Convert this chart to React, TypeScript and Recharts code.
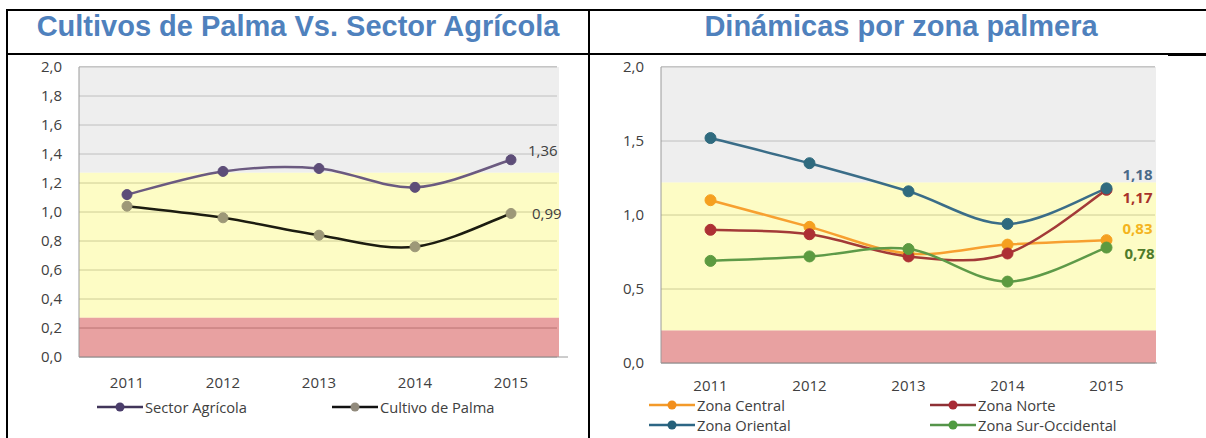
import React from "react";
import {
  LineChart,
  Line,
  XAxis,
  YAxis,
  CartesianGrid,
  ReferenceArea,
  Legend,
} from "recharts";

// ---- data ----
const years = ["2011", "2012", "2013", "2014", "2015"];

const sectorAgricola = [1.12, 1.28, 1.3, 1.17, 1.36];
const cultivoPalma = [1.04, 0.96, 0.84, 0.76, 0.99];
const leftTicks = [0, 0.2, 0.4, 0.6, 0.8, 1.0, 1.2, 1.4, 1.6, 1.8, 2.0];
const leftRedBand = [0, 0.27];
const leftYellowBand = [0.27, 1.27];

const zonaCentral = [1.1, 0.92, 0.74, 0.8, 0.83];
const zonaNorte = [0.9, 0.87, 0.72, 0.74, 1.17];
const zonaOriental = [1.52, 1.35, 1.16, 0.94, 1.18];
const zonaSurOccidental = [0.69, 0.72, 0.77, 0.55, 0.78];
const rightTicks = [0, 0.5, 1.0, 1.5, 2.0];
const rightRedBand = [0, 0.22];
const rightYellowBand = [0.22, 1.22];

const leftData = years.map((year, i) => ({
  year,
  sector: sectorAgricola[i],
  palma: cultivoPalma[i],
}));

const rightData = years.map((year, i) => ({
  year,
  central: zonaCentral[i],
  norte: zonaNorte[i],
  oriental: zonaOriental[i],
  sur: zonaSurOccidental[i],
}));

// ---- styling ----
const chartFont = "'Open Sans', 'Noto Sans', sans-serif";
const textGray = "#404040";
const gridGray = "#8a8a8a";
const axisGray = "#9a9a9a";
const titleBlue = "#4f81bd";

const fmtTick = (v: number) => v.toFixed(1).replace(".", ",");
const fmtValue = (v: number) => v.toFixed(2).replace(".", ",");

// Excel-like smoothed line (Catmull-Rom through the points)
const excelSmooth = (ctx: any) => {
  let pts: number[][] = [];
  return {
    areaStart() {},
    areaEnd() {},
    lineStart() {
      pts = [];
    },
    point(x: number, y: number) {
      pts.push([+x, +y]);
    },
    lineEnd() {
      if (!pts.length) return;
      ctx.moveTo(pts[0][0], pts[0][1]);
      for (let i = 0; i < pts.length - 1; i++) {
        const p0 = pts[Math.max(i - 1, 0)];
        const p1 = pts[i];
        const p2 = pts[i + 1];
        const p3 = pts[Math.min(i + 2, pts.length - 1)];
        ctx.bezierCurveTo(
          p1[0] + (p2[0] - p0[0]) / 6,
          p1[1] + (p2[1] - p0[1]) / 6,
          p2[0] - (p3[0] - p1[0]) / 6,
          p2[1] - (p3[1] - p1[1]) / 6,
          p2[0],
          p2[1]
        );
      }
    },
  };
};

const shortGrid = (trim: number) => (p: any) => (
  <line
    key={`h-${p.index}`}
    x1={p.x1}
    x2={p.x2 - trim}
    y1={p.y1}
    y2={p.y2}
    stroke={gridGray}
    strokeWidth={1}
  />
);

const endLabel =
  (color: string, dx: number, dy: number, bold: boolean) => (props: any) => {
    const { x, y, value, index } = props;
    if (index !== years.length - 1) return null;
    return (
      <text
        x={x + dx}
        y={y + dy}
        fill={color}
        fontSize={15}
        fontWeight={bold ? 700 : 400}
        fontFamily={chartFont}
        dominantBaseline="central"
      >
        {fmtValue(value)}
      </text>
    );
  };

type LegendItem = {
  name: string;
  line: string;
  dot: string;
  x: number;
  row: number;
};

function LegendBox({ items, height }: { items: LegendItem[]; height: number }) {
  return (
    <div
      style={{
        position: "relative",
        height,
        fontFamily: chartFont,
        fontSize: 14.7,
        color: textGray,
      }}
    >
      {items.map((it) => (
        <div
          key={it.name}
          style={{
            position: "absolute",
            left: it.x,
            top: it.row * 20,
            height: 18,
            display: "flex",
            alignItems: "center",
            whiteSpace: "nowrap",
          }}
        >
          <svg width={46} height={12}>
            <line x1={0} x2={46} y1={6} y2={6} stroke={it.line} strokeWidth={2.5} />
            <circle cx={23} cy={6} r={4.5} fill={it.dot} />
          </svg>
          <span style={{ marginLeft: 2, lineHeight: "16px" }}>{it.name}</span>
        </div>
      ))}
    </div>
  );
}

const leftLegend: LegendItem[] = [
  { name: "Sector Agrícola", line: "#41355a", dot: "#4a3d6b", x: 97, row: 0 },
  { name: "Cultivo de Palma", line: "#111111", dot: "#918a7c", x: 332, row: 0 },
];

const rightLegend: LegendItem[] = [
  { name: "Zona Central", line: "#f39a2a", dot: "#f28f1c", x: 59, row: 0 },
  { name: "Zona Norte", line: "#8e3035", dot: "#a82a35", x: 340, row: 0 },
  { name: "Zona Oriental", line: "#2c6685", dot: "#25607a", x: 59, row: 1 },
  { name: "Zona Sur-Occidental", line: "#55944a", dot: "#4f9a40", x: 340, row: 1 },
];

const tickStyle = { fill: textGray, fontSize: 15, fontFamily: chartFont };

function LeftChart() {
  return (
    <LineChart
      width={590}
      height={384}
      data={leftData}
      margin={{ top: 13, right: 22, bottom: 22, left: 0 }}
    >
      <CartesianGrid vertical={false} horizontal={shortGrid(11)} />
      <ReferenceArea y1={leftYellowBand[1]} y2={2} fill="#e2e2e2" fillOpacity={0.6} stroke="none" />
      <ReferenceArea y1={leftYellowBand[0]} y2={leftYellowBand[1]} fill="#fcfa9e" fillOpacity={0.6} stroke="none" />
      <ReferenceArea y1={leftRedBand[0]} y2={leftRedBand[1]} fill="#d96262" fillOpacity={0.6} stroke="none" />
      <XAxis
        dataKey="year"
        scale="band"
        axisLine={{ stroke: axisGray }}
        tickLine={false}
        tickMargin={14}
        height={41}
        padding={{ left: 0, right: 9 }}
        tick={tickStyle}
        interval={0}
      />
      <YAxis
        domain={[0, 2]}
        ticks={leftTicks}
        tickFormatter={fmtTick}
        axisLine={{ stroke: axisGray }}
        tickLine={false}
        tickMargin={11}
        width={79}
        tick={tickStyle}
        interval={0}
      />
      <Legend
        verticalAlign="bottom"
        content={() => <LegendBox items={leftLegend} height={18} />}
      />
      <Line
        dataKey="sector"
        type={excelSmooth as any}
        stroke="#6b5a80"
        strokeWidth={2.5}
        dot={{ r: 5, fill: "#5d4d78", stroke: "#5d4d78", strokeWidth: 1 }}
        activeDot={false}
        isAnimationActive={false}
        label={endLabel(textGray, 17, -10, false)}
      />
      <Line
        dataKey="palma"
        type={excelSmooth as any}
        stroke="#1c1c10"
        strokeWidth={2.5}
        dot={{ r: 5, fill: "#9d9878", stroke: "#9d9878", strokeWidth: 1 }}
        activeDot={false}
        isAnimationActive={false}
        label={endLabel(textGray, 21, 0, false)}
      />
    </LineChart>
  );
}

function RightChart() {
  return (
    <LineChart
      width={616}
      height={384}
      data={rightData}
      margin={{ top: 13, right: 49, bottom: 4, left: 0 }}
    >
      <CartesianGrid vertical={false} horizontal={shortGrid(2)} />
      <ReferenceArea y1={rightYellowBand[1]} y2={2} fill="#e2e2e2" fillOpacity={0.6} stroke="none" />
      <ReferenceArea y1={rightYellowBand[0]} y2={rightYellowBand[1]} fill="#fcfa9e" fillOpacity={0.6} stroke="none" />
      <ReferenceArea y1={rightRedBand[0]} y2={rightRedBand[1]} fill="#d96262" fillOpacity={0.6} stroke="none" />
      <XAxis
        dataKey="year"
        scale="band"
        axisLine={{ stroke: axisGray }}
        tickLine={false}
        tickMargin={11}
        height={33}
        padding={{ left: 0, right: 1 }}
        tick={tickStyle}
        interval={0}
      />
      <YAxis
        domain={[0, 2]}
        ticks={rightTicks}
        tickFormatter={fmtTick}
        axisLine={{ stroke: axisGray }}
        tickLine={false}
        tickMargin={11}
        width={71}
        tick={tickStyle}
        interval={0}
      />
      <Legend
        verticalAlign="bottom"
        content={() => <LegendBox items={rightLegend} height={38} />}
      />
      <Line
        dataKey="central"
        type={excelSmooth as any}
        stroke="#f7a030"
        strokeWidth={2.5}
        dot={{ r: 5.5, fill: "#f5a020", stroke: "#f5a020", strokeWidth: 1 }}
        activeDot={false}
        isAnimationActive={false}
        label={endLabel("#f4b41e", 16, -12, true)}
      />
      <Line
        dataKey="norte"
        type={excelSmooth as any}
        stroke="#a33a38"
        strokeWidth={2.5}
        dot={{ r: 5.5, fill: "#ad3034", stroke: "#ad3034", strokeWidth: 1 }}
        activeDot={false}
        isAnimationActive={false}
        label={endLabel("#a8322a", 16, 7, true)}
      />
      <Line
        dataKey="sur"
        type={excelSmooth as any}
        stroke="#5e9a48"
        strokeWidth={2.5}
        dot={{ r: 5.5, fill: "#5c9a40", stroke: "#5c9a40", strokeWidth: 1 }}
        activeDot={false}
        isAnimationActive={false}
        label={endLabel("#4f7a2a", 18, 5, true)}
      />
      <Line
        dataKey="oriental"
        type={excelSmooth as any}
        stroke="#3a6d88"
        strokeWidth={2.5}
        dot={{ r: 5.5, fill: "#2f6a7e", stroke: "#2f6a7e", strokeWidth: 1 }}
        activeDot={false}
        isAnimationActive={false}
        label={endLabel("#4a6a88", 16, -14, true)}
      />
    </LineChart>
  );
}

const titleStyle: React.CSSProperties = {
  position: "absolute",
  top: 12,
  height: 30,
  lineHeight: "29px",
  textAlign: "center",
  fontFamily: "'Liberation Sans', Arial, sans-serif",
  fontWeight: 700,
  fontSize: 29,
  color: titleBlue,
  whiteSpace: "nowrap",
};

const rule = (left: number, top: number, width: number, height: number) => (
  <div
    style={{
      position: "absolute",
      left,
      top,
      width,
      height,
      background: "#000",
    }}
  />
);

export default function App() {
  return (
    <div
      style={{
        position: "absolute",
        left: 0,
        top: 0,
        width: 1206,
        height: 438,
        overflow: "hidden",
        background: "#fff",
      }}
    >
      <div style={{ ...titleStyle, left: 8, width: 580 }}>
        Cultivos de Palma Vs. Sector Agrícola
      </div>
      <div style={{ ...titleStyle, left: 590, width: 622 }}>
        Dinámicas por zona palmera
      </div>

      <div style={{ position: "absolute", left: 0, top: 54 }}>
        <LeftChart />
      </div>
      <div style={{ position: "absolute", left: 590, top: 54 }}>
        <RightChart />
      </div>

      {rule(6, 9, 1200, 2)}
      {rule(6, 53, 1162, 2)}
      {rule(1168, 53, 38, 3)}
      {rule(6, 9, 2, 429)}
      {rule(588, 9, 2, 429)}
    </div>
  );
}
